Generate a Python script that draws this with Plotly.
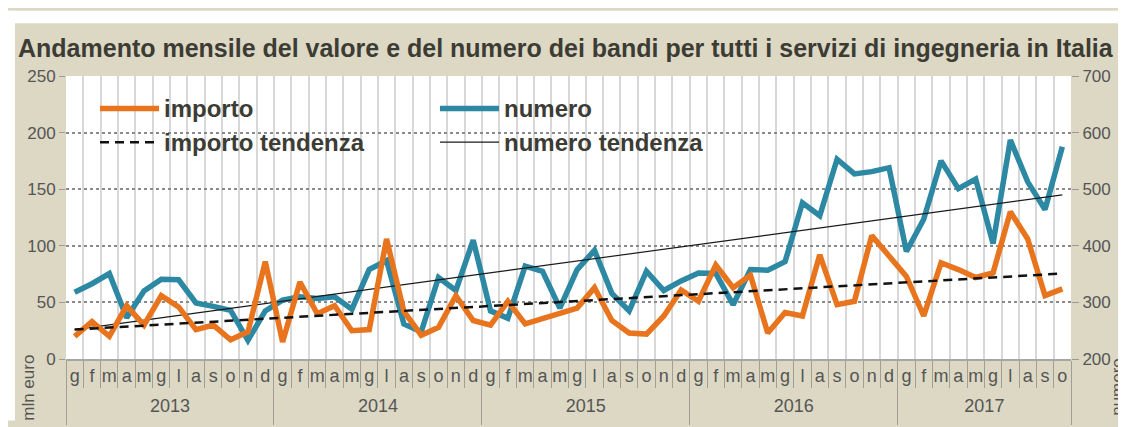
import plotly.graph_objects as go

# ---------------- data ----------------
mesi_lettere = ["g", "f", "m", "a", "m", "g", "l", "a", "s", "o", "n", "d"]
anni = ["2013", "2014", "2015", "2016", "2017"]
mesi_per_anno = [12, 12, 12, 12, 10]

# importo (mln euro, left axis)
importo = [20, 33, 20, 47, 30, 56, 46, 26, 30, 17, 24, 86,
           15, 68, 40, 47, 25, 26, 106, 42, 21, 28, 56, 34,
           30, 51, 31, 36, 41, 45, 63, 34, 23, 22, 38, 61,
           51, 83, 63, 74, 23, 41, 38, 92, 48, 51, 109, 91,
           73, 38, 85, 79, 72, 76, 130, 106, 56, 62]

# numero (right axis)
numero = [318, 333, 351, 273, 320, 341, 340, 299, 293, 286, 233, 285,
          304, 310, 307, 310, 288, 358, 374, 262, 248, 344, 321, 410,
          285, 272, 364, 355, 290, 358, 392, 316, 285, 355, 321, 338,
          352, 351, 296, 358, 357, 372, 476, 453, 553, 527, 531, 538,
          390, 447, 550, 501, 518, 404, 587, 513, 464, 575]

# trend lines: values at first and last month
importo_tendenza = [26, 75.5]
numero_tendenza = [252, 490]

etichette_mesi = [mesi_lettere[j] for n in mesi_per_anno for j in range(n)]
n_mesi = len(etichette_mesi)
x_mesi = [i + 0.5 for i in range(n_mesi)]
confini_anni = [0]
for n in mesi_per_anno:
    confini_anni.append(confini_anni[-1] + n)
centri_anni = [(a + b) / 2 for a, b in zip(confini_anni[:-1], confini_anni[1:])]

# ---------------- style ----------------
W, H = 1126, 427
L, R, T, B = 58, 63, 68, 64
FONT = "Liberation Sans, Arial, sans-serif"
ARANCIO = "#E8741E"
BLU = "#2C88A3"
BEIGE = "#DCD8C4"
TXT = "#3C3C34"
TICK = "#555555"


def xp(px):
    return (px - L) / (W - L - R)


def yp(py):
    return (H - B - py) / (H - T - B)


fig = go.Figure()
fig.add_trace(go.Scatter(x=x_mesi, y=numero, yaxis="y", mode="lines",
                         line=dict(color=BLU, width=5.5), name="numero"))
fig.add_trace(go.Scatter(x=[x_mesi[0], x_mesi[-1]], y=numero_tendenza, yaxis="y",
                         mode="lines", line=dict(color="#1a1a1a", width=1.2),
                         name="numero tendenza"))
fig.add_trace(go.Scatter(x=x_mesi, y=importo, yaxis="y2", mode="lines",
                         line=dict(color=ARANCIO, width=5.5), name="importo"))
fig.add_trace(go.Scatter(x=[x_mesi[0], x_mesi[-1]], y=importo_tendenza, yaxis="y2",
                         mode="lines", line=dict(color="#111111", width=2.5, dash="9px,6px"),
                         name="importo tendenza"))
# carriers for label axes
fig.add_trace(go.Scatter(x=[None], y=[None], xaxis="x2", yaxis="y", showlegend=False, hoverinfo="skip"))
fig.add_trace(go.Scatter(x=[None], y=[None], xaxis="x3", yaxis="y", showlegend=False, hoverinfo="skip"))

shapes = [
    dict(type="rect", xref="paper", yref="paper", x0=xp(0), x1=xp(W), y0=yp(13), y1=yp(0),
         fillcolor="white", line_width=0, layer="below"),
    dict(type="rect", xref="paper", yref="paper", x0=xp(0), x1=xp(7), y0=yp(H), y1=yp(0),
         fillcolor="white", line_width=0, layer="below"),
    # legend symbols
    dict(type="line", xref="paper", yref="paper", x0=xp(92), x1=xp(151), y0=yp(102), y1=yp(102),
         line=dict(color=ARANCIO, width=5.5)),
    dict(type="line", xref="paper", yref="paper", x0=xp(432), x1=xp(491), y0=yp(102), y1=yp(102),
         line=dict(color=BLU, width=5.5)),
    dict(type="line", xref="paper", yref="paper", x0=xp(92), x1=xp(151), y0=yp(137), y1=yp(137),
         line=dict(color="#111111", width=2.5, dash="9px,6px")),
    dict(type="line", xref="paper", yref="paper", x0=xp(432), x1=xp(491), y0=yp(137), y1=yp(137),
         line=dict(color="#1a1a1a", width=1.2)),
]

leg_font = dict(family=FONT, size=24, color=TXT)
annotations = [
    dict(text="<b>importo</b>", x=xp(154), y=yp(102), xref="paper", yref="paper",
         xanchor="left", yanchor="middle", showarrow=False, font=leg_font),
    dict(text="<b>numero</b>", x=xp(494), y=yp(102), xref="paper", yref="paper",
         xanchor="left", yanchor="middle", showarrow=False, font=leg_font),
    dict(text="<b>importo tendenza</b>", x=xp(154), y=yp(137), xref="paper", yref="paper",
         xanchor="left", yanchor="middle", showarrow=False, font=leg_font),
    dict(text="<b>numero tendenza</b>", x=xp(494), y=yp(137), xref="paper", yref="paper",
         xanchor="left", yanchor="middle", showarrow=False, font=leg_font),
    dict(text="mln euro", x=xp(21), y=yp(393), xref="paper", yref="paper", textangle=-90,
         xanchor="center", yanchor="middle", showarrow=False,
         font=dict(family=FONT, size=17, color=TICK)),
    dict(text="numero", x=xp(1110), y=yp(392), xref="paper", yref="paper", textangle=-90,
         xanchor="center", yanchor="middle", showarrow=False,
         font=dict(family=FONT, size=17, color=TICK)),
]

fig.update_layout(
    width=W, height=H,
    margin=dict(l=L, r=R, t=T, b=B),
    paper_bgcolor=BEIGE, plot_bgcolor="white",
    showlegend=False,
    title=dict(text="<b>Andamento mensile del valore e del numero dei bandi per tutti i servizi di ingegneria in Italia</b>",
               x=10 / W, xanchor="left", xref="container",
               y=1 - 40 / H, yanchor="middle", yref="container",
               font=dict(family=FONT, size=25, color=TXT)),
    font=dict(family=FONT, size=17, color=TICK),
    xaxis=dict(range=[0, n_mesi], tickmode="array", tickvals=confini_anni,
               ticks="outside", ticklen=64, tickcolor="#A19F94", tickwidth=1,
               showticklabels=False, showgrid=True, gridcolor="#D8D8D8", gridwidth=1.5,
               minor=dict(tick0=0, dtick=1, ticks="outside", ticklen=27, tickcolor="#A19F94",
                          tickwidth=1, showgrid=True, gridcolor="#D8D8D8", gridwidth=1.5),
               showline=True, linecolor="#A5A5A5", linewidth=1.5, zeroline=False, fixedrange=True),
    xaxis2=dict(overlaying="x", anchor="y", side="bottom", range=[0, n_mesi],
                tickmode="array", tickvals=x_mesi, ticktext=etichette_mesi,
                ticks="", showgrid=False, showline=False, zeroline=False,
                tickfont=dict(family=FONT, size=18, color=TICK), ticklabelstandoff=4),
    xaxis3=dict(overlaying="x", anchor="y", side="bottom", range=[0, n_mesi],
                tickmode="array", tickvals=centri_anni, ticktext=anni,
                ticks="", showgrid=False, showline=False, zeroline=False,
                tickfont=dict(family=FONT, size=18, color=TICK), ticklabelstandoff=34),
    yaxis=dict(side="right", range=[200, 700], tick0=200, dtick=100,
               showgrid=True, griddash="dot", gridcolor="#8A8A8A", gridwidth=1.5,
               ticks="outside", ticklen=7, tickcolor="#9A9A9A",
               tickfont=dict(family=FONT, size=17, color=TICK),
               showline=False, zeroline=False),
    yaxis2=dict(overlaying="y", side="left", range=[0, 250], tick0=0, dtick=50,
                showgrid=False, ticks="outside", ticklen=6, tickcolor="#9A9A9A",
                tickfont=dict(family=FONT, size=17, color=TICK),
                showline=False, zeroline=False),
    shapes=shapes,
    annotations=annotations,
)

fig.write_html("out.html")
